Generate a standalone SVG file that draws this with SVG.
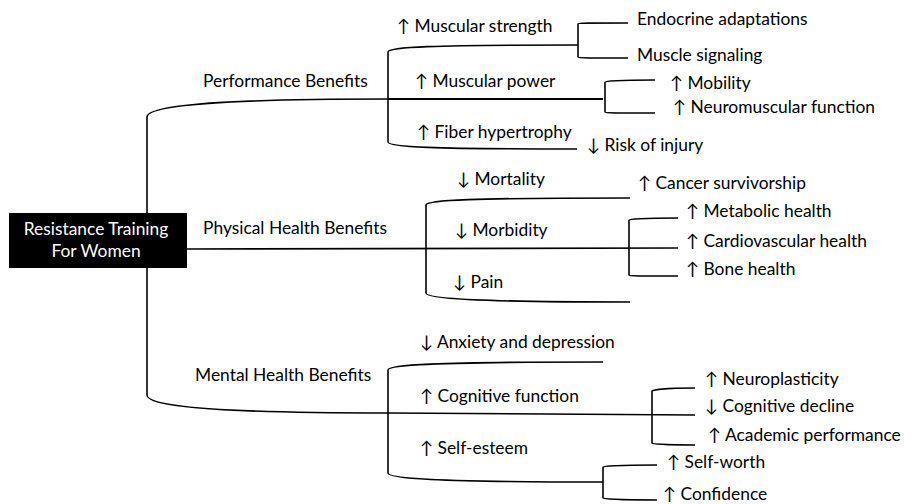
<svg xmlns="http://www.w3.org/2000/svg" width="919" height="504" viewBox="0 0 919 504">
<style>
  .c { fill: none; stroke: #000; stroke-width: 1.6; }
  .t { font-family: Lato, "DejaVu Sans", sans-serif; font-size: 17.4px; fill: #000; }
  .w { font-family: Lato, "DejaVu Sans", sans-serif; font-size: 17.4px; fill: #fff; text-anchor: middle; }
</style>
<rect width="919" height="504" fill="#fff"/>
<g id="connectors">
  <path class="c" d="M147,117 L147,395"/>
  <path class="c" d="M147,117 C147,107 200,99 388,99"/>
  <path class="c" d="M147,395 C147,405 200,413 388,413"/>
  <path class="c" d="M187,249 L678,248"/>
  <path class="c" d="M388,52 L388,142"/>
  <path class="c" d="M388,52 C388,47 430,45 578,45"/>
  <path class="c" d="M388,142 C388,147 430,149 577,149"/>
  <path class="c" d="M388,99 L603,99" style="stroke-width:2"/>
  <path class="c" d="M578,24 L578,57"/>
  <path class="c" d="M578,24 C578,23 590,23 628,23"/>
  <path class="c" d="M578,57 C578,58 590,58 628,58"/>
  <path class="c" d="M605,82 L605,112"/>
  <path class="c" d="M605,82 C605,81 615,80 655,80"/>
  <path class="c" d="M605,112 C605,113 615,113 655,113"/>
  <path class="c" d="M426,205 L426,293"/>
  <path class="c" d="M426,205 C426,200 470,198 630,198"/>
  <path class="c" d="M426,293 C426,298 470,302 630,302"/>
  <path class="c" d="M629,220 L629,275"/>
  <path class="c" d="M629,220 C629,219 640,218 678,218"/>
  <path class="c" d="M629,275 C629,276 640,276 678,276"/>
  <path class="c" d="M388,413 L695,415"/>
  <path class="c" d="M388,370 L388,473"/>
  <path class="c" d="M388,370 C388,365 430,362 603,362"/>
  <path class="c" d="M388,473 C388,478 430,482 603,482"/>
  <path class="c" d="M603,467 L603,498"/>
  <path class="c" d="M603,467 C603,466 615,465 657,465"/>
  <path class="c" d="M603,498 C603,499 615,500 657,500"/>
  <path class="c" d="M652,391 L652,443"/>
  <path class="c" d="M652,391 C652,390 662,388 695,388"/>
  <path class="c" d="M652,443 C652,444 662,445 695,445"/>
</g>
<g id="root">
  <rect x="9" y="213" width="178" height="55" fill="#000"/>
  <text class="w" x="96" y="235">Resistance Training</text>
  <text class="w" x="96" y="257">For Women</text>
</g>
<g id="performance"><text class="t" x="203" y="87">Performance Benefits</text></g>
<g id="strength"><text class="t" x="397" y="32">↑ Muscular strength</text></g>
<g id="endocrine"><text class="t" x="637" y="25">Endocrine adaptations</text></g>
<g id="signaling"><text class="t" x="637" y="61">Muscle signaling</text></g>
<g id="power"><text class="t" x="415" y="87">↑ Muscular power</text></g>
<g id="mobility"><text class="t" x="670" y="89">↑ Mobility</text></g>
<g id="neuromuscular"><text class="t" x="673" y="113">↑ Neuromuscular function</text></g>
<g id="hypertrophy"><text class="t" x="417" y="138">↑ Fiber hypertrophy</text></g>
<g id="injury"><text class="t" x="587" y="151">↓ Risk of injury</text></g>
<g id="physical"><text class="t" x="203" y="234">Physical Health Benefits</text></g>
<g id="mortality"><text class="t" x="457" y="185">↓ Mortality</text></g>
<g id="cancer"><text class="t" x="638" y="189">↑ Cancer survivorship</text></g>
<g id="morbidity"><text class="t" x="455" y="236">↓ Morbidity</text></g>
<g id="metabolic"><text class="t" x="686" y="217">↑ Metabolic health</text></g>
<g id="cardio"><text class="t" x="686" y="247">↑ Cardiovascular health</text></g>
<g id="bone"><text class="t" x="686" y="275">↑ Bone health</text></g>
<g id="pain"><text class="t" x="453" y="288">↓ Pain</text></g>
<g id="mental"><text class="t" x="195" y="381">Mental Health Benefits</text></g>
<g id="anxiety"><text class="t" x="420" y="348">↓ Anxiety and depression</text></g>
<g id="cognitive"><text class="t" x="420" y="402">↑ Cognitive function</text></g>
<g id="selfesteem"><text class="t" x="420" y="454">↑ Self-esteem</text></g>
<g id="neuroplasticity"><text class="t" x="705" y="385">↑ Neuroplasticity</text></g>
<g id="decline"><text class="t" x="705" y="412">↓ Cognitive decline</text></g>
<g id="academic"><text class="t" x="708" y="441">↑ Academic performance</text></g>
<g id="selfworth"><text class="t" x="667" y="468">↑ Self-worth</text></g>
<g id="confidence"><text class="t" x="663" y="500">↑ Confidence</text></g>
</svg>
